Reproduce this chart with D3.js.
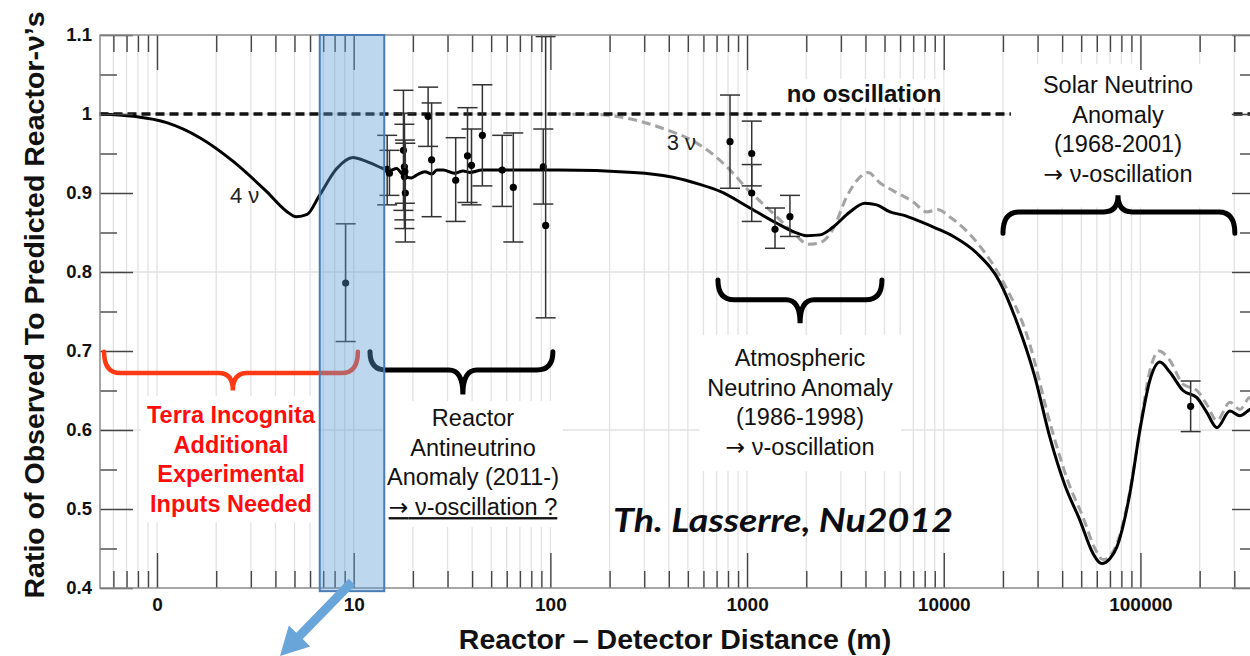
<!DOCTYPE html>
<html>
<head>
<meta charset="utf-8">
<script src="https://cdn.jsdelivr.net/npm/d3@7/dist/d3.min.js"></script>
<style>
  body { margin: 0; background: #fff; }
  text { font-family: "Liberation Sans", Arial, Helvetica, sans-serif; }
</style>
</head>
<body>
<script>
// ---- data ----
var yTickValues = [0.4, 0.5, 0.6, 0.7, 0.8, 0.9, 1.0, 1.1];
var yTickLabels = ["0.4", "0.5", "0.6", "0.7", "0.8", "0.9", "1", "1.1"];
var yMinorValues = [0.45, 0.55, 0.65, 0.75, 0.85, 0.95, 1.05];
var yGridValues = [0.6, 0.8, 1.0];
var xTickValues = [1, 10, 100, 1000, 10000, 100000];
var xTickLabels = ["0", "10", "100", "1000", "10000", "100000"];

// 4 neutrino curve (solid black)
var fourNuDist = [0.51, 0.76, 1.12, 1.65, 2.44, 3.6, 4.55, 5.1, 5.8, 6.7,
  8.2, 9.9, 11.6, 14.1, 15.2, 16.5, 18.1, 19.6, 21.3, 23,
  25, 26.5, 28.5, 32.5, 36, 39, 45, 51, 110, 265,
  420, 575, 730, 1035, 1410, 1720, 2010, 2350, 2740, 3330,
  3970, 4560, 5330, 6220, 7570, 9030, 11200, 14700, 19300, 23000,
  29000, 34700, 41300, 49200, 57300, 63600, 69900, 75900, 88400, 99400,
  111700, 125600, 141300, 164500, 193700, 217800, 244800, 285200, 320600, 360500,
  415000];
var fourNuRatio = [1.0, 0.997, 0.989, 0.970, 0.940, 0.902, 0.877, 0.870, 0.873, 0.897,
  0.931, 0.945, 0.940, 0.931, 0.928, 0.931, 0.921, 0.919, 0.924, 0.927,
  0.924, 0.929, 0.929, 0.925, 0.928, 0.926, 0.929, 0.929, 0.929, 0.926,
  0.920, 0.911, 0.902, 0.881, 0.862, 0.851, 0.846, 0.847, 0.857, 0.876,
  0.887, 0.885, 0.876, 0.872, 0.864, 0.856, 0.845, 0.824, 0.787, 0.743,
  0.668, 0.590, 0.530, 0.486, 0.444, 0.431, 0.437, 0.452, 0.520, 0.600,
  0.663, 0.686, 0.673, 0.650, 0.641, 0.622, 0.603, 0.624, 0.618, 0.626,
  0.630];

// 3 neutrino curve (grey dashed)
var threeNuDist = [110, 180, 263, 390, 530, 670, 850, 1000, 1160, 1470,
  1790, 2040, 2350, 2730, 3220, 3750, 4120, 4730, 5520, 6970,
  8220, 9240, 11100, 14800, 20200, 26500, 35500, 42800, 51000, 58700,
  64500, 70800, 76900, 89500, 100600, 111700, 124100, 141300, 164500, 193700,
  217800, 244800, 285200, 320600, 360500, 415000];
var threeNuRatio = [1.0, 0.999, 0.993, 0.980, 0.966, 0.949, 0.925, 0.905, 0.890, 0.866,
  0.845, 0.835, 0.837, 0.854, 0.896, 0.920, 0.926, 0.913, 0.903, 0.889,
  0.876, 0.879, 0.867, 0.837, 0.786, 0.720, 0.600, 0.535, 0.490, 0.450,
  0.436, 0.442, 0.460, 0.530, 0.610, 0.675, 0.700, 0.688, 0.658, 0.650,
  0.632, 0.612, 0.635, 0.626, 0.641, 0.640];

// no oscillation
var noOscDist = [0.51, 415000];
var noOscRatio = [1.0, 1.0];

// measurements with error bars
var pointDist = [9.1, 14.8, 15.2, 17.9, 18.1, 18.1, 18.3, 18.2, 23.9, 24.9,
  33, 37.9, 39.7, 45.1, 56.9, 64.8, 92, 94.6, 819, 1056,
  1056, 1387, 1652, 180000];
var pointRatio = [0.786, 0.930, 0.925, 0.954, 0.933, 0.921, 0.900, 0.927, 0.997, 0.942,
  0.916, 0.947, 0.935, 0.973, 0.929, 0.907, 0.933, 0.859, 0.965, 0.950,
  0.900, 0.854, 0.870, 0.630];
var pointLow = [0.712, 0.885, 0.897, 0.878, 0.866, 0.855, 0.838, 0.887, 0.959, 0.870,
  0.864, 0.888, 0.885, 0.909, 0.883, 0.838, 0.886, 0.742, 0.906, 0.909,
  0.864, 0.830, 0.845, 0.598];
var pointHigh = [0.861, 0.973, 0.954, 1.030, 1.001, 0.987, 0.963, 0.967, 1.034, 1.014,
  0.970, 1.008, 0.981, 1.037, 0.973, 0.976, 0.981, 1.098, 1.024, 0.991,
  0.936, 0.881, 0.897, 0.662];

// ---- chart ----
var W = 1250, H = 656;
var plotL = 100, plotR = 1262, plotT = 35, plotB = 588;

var svg = d3.select("body").append("svg")
  .attr("width", W).attr("height", H);

var x = d3.scaleLog().domain([0.513, 415000]).range([plotL, plotR]);
var y = d3.scaleLinear().domain([0.4, 1.1]).range([plotB, plotT]);

var allX = x.ticks();   // 1..9 x 10^k over the domain
var minorX = allX.filter(function (d) { return xTickValues.indexOf(d) < 0; });

// grid
var grid = svg.append("g");
grid.selectAll("line.v").data(allX).enter().append("line")
  .attr("x1", function (d) { return x(d); }).attr("x2", function (d) { return x(d); })
  .attr("y1", plotT).attr("y2", plotB)
  .attr("stroke", "#e2e2e2").attr("stroke-width", 1.3);
grid.selectAll("line.h").data(yGridValues).enter().append("line")
  .attr("x1", plotL).attr("x2", plotR)
  .attr("y1", function (d) { return y(d); }).attr("y2", function (d) { return y(d); })
  .attr("stroke", "#e2e2e2").attr("stroke-width", 1.3);

// curves
function lineFor(xs, ys) {
  return d3.line()
    .x(function (d) { return x(d); })
    .y(function (d, i) { return y(ys[i]); })
    .curve(d3.curveMonotoneX)(xs);
}

svg.append("path").attr("d", lineFor(threeNuDist, threeNuRatio))
  .attr("fill", "none").attr("stroke", "#a3a3a3")
  .attr("stroke-width", 3).attr("stroke-dasharray", "9,5");

svg.append("path").attr("d", lineFor(noOscDist, noOscRatio))
  .attr("fill", "none").attr("stroke", "#111")
  .attr("stroke-width", 3.5).attr("stroke-dasharray", "9,5");

svg.append("path").attr("d", lineFor(fourNuDist, fourNuRatio))
  .attr("fill", "none").attr("stroke", "#000")
  .attr("stroke-width", 3);

// error bars + points
var pts = svg.append("g");
pointDist.forEach(function (d, i) {
  var px = x(d);
  pts.append("line").attr("x1", px).attr("x2", px)
    .attr("y1", y(pointLow[i])).attr("y2", y(pointHigh[i]))
    .attr("stroke", "#333").attr("stroke-width", 1.5);
  [pointLow[i], pointHigh[i]].forEach(function (v) {
    pts.append("line").attr("x1", px - 10).attr("x2", px + 10)
      .attr("y1", y(v)).attr("y2", y(v))
      .attr("stroke", "#333").attr("stroke-width", 1.5);
  });
  pts.append("circle").attr("cx", px).attr("cy", y(pointRatio[i]))
    .attr("r", 3.6).attr("fill", "#000");
});

// text blocks with white boxes behind
var annot = svg.append("g");
function textBlock(lines, cx, base, lh, size, weight, color, pad, underlineLast) {
  var g = annot.append("g");
  var rect = g.append("rect").attr("fill", "#fff");
  var texts = g.selectAll("text").data(lines).enter().append("text")
    .attr("x", cx).attr("y", function (d, i) { return base + i * lh; })
    .attr("text-anchor", "middle")
    .attr("font-size", size).attr("font-weight", weight)
    .attr("fill", color)
    .style("text-decoration", function (d, i) {
      return (underlineLast && i === lines.length - 1) ? "underline" : "none";
    })
    .each(function (d) {
      // arrow glyph drawn from DejaVu so it is as wide as in the slide
      var t = d3.select(this);
      if (d.charAt(0) === "\u2192") {
        t.append("tspan").style("font-family", "'DejaVu Sans', sans-serif").text("\u2192");
        t.append("tspan").text(d.slice(1));
      } else {
        t.text(d);
      }
    });
  var x0 = 1e9, y0 = 1e9, x1 = -1e9, y1 = -1e9;
  texts.each(function () {
    var b = this.getBBox();
    x0 = Math.min(x0, b.x); y0 = Math.min(y0, b.y);
    x1 = Math.max(x1, b.x + b.width); y1 = Math.max(y1, b.y + b.height);
  });
  rect.attr("x", x0 - pad[3]).attr("y", y0 - pad[0])
    .attr("width", x1 - x0 + pad[1] + pad[3])
    .attr("height", y1 - y0 + pad[0] + pad[2]);
}

textBlock(["Solar Neutrino", "Anomaly", "(1968-2001)", "\u2192 \u03bd-oscillation"],
  1118, 93, 29.5, 23.5, "normal", "#111", [8, 38, 20, 32]);
textBlock(["Atmospheric", "Neutrino Anomaly", "(1986-1998)", "\u2192 \u03bd-oscillation"],
  800, 366, 29.7, 23.5, "normal", "#111", [10, 8, 10, 8]);
textBlock(["Reactor", "Antineutrino", "Anomaly (2011-)", "\u2192 \u03bd-oscillation ?"],
  473, 426, 29.7, 23.5, "normal", "#111", [4, 4, 6, 4], true);
textBlock(["Terra Incognita", "Additional", "Experimental", "Inputs Needed"],
  231, 423, 29.5, 23.5, "bold", "#ff0d0d", [6, 2, 6, 6]);
textBlock(["no oscillation"], 864, 102, 20, 24, "bold", "#111", [1, 2, 1, 2]);

// curve labels
svg.append("text").attr("x", x(2.35)).attr("y", y(0.887))
  .attr("font-size", 22).attr("fill", "#222").text("4 \u03bd");
svg.append("text").attr("x", x(390)).attr("y", y(0.955))
  .attr("font-size", 22).attr("fill", "#222").text("3 \u03bd");

// axes: inward ticks on all four sides
function ticks(gen, vals, size, tx, ty) {
  svg.append("g").attr("transform", "translate(" + tx + "," + ty + ")")
    .call(gen.tickValues(vals).tickSize(size).tickFormat(""))
    .call(function (g) {
      g.select(".domain").remove();
      g.selectAll("line").attr("stroke", "#444").attr("stroke-width", 1.4);
    });
}
ticks(d3.axisTop(x), xTickValues, 35, 0, plotB);
ticks(d3.axisTop(x), minorX, 17, 0, plotB);
ticks(d3.axisBottom(x), xTickValues, 35, 0, plotT);
ticks(d3.axisBottom(x), minorX, 17, 0, plotT);
ticks(d3.axisRight(y), yTickValues, 33, plotL, 0);
ticks(d3.axisRight(y), yMinorValues, 17, plotL, 0);
ticks(d3.axisLeft(y), yTickValues, 30, plotR, 0);
ticks(d3.axisLeft(y), yMinorValues, 22, plotR, 0);

svg.append("rect").attr("x", plotL).attr("y", plotT)
  .attr("width", plotR - plotL).attr("height", plotB - plotT)
  .attr("fill", "none").attr("stroke", "#8a8a8a").attr("stroke-width", 1.5);

// tick labels
svg.append("g").attr("transform", "translate(0," + plotB + ")")
  .call(d3.axisBottom(x).tickValues(xTickValues).tickSize(0).tickPadding(10)
    .tickFormat(function (d, i) { return xTickLabels[i]; }))
  .call(function (g) {
    g.select(".domain").remove();
    g.selectAll("text").attr("font-size", 19).attr("font-weight", "bold")
      .attr("fill", "#111").style("font-family", "'Liberation Sans', Arial, sans-serif");
  });
svg.append("g").attr("transform", "translate(" + (plotL - 8) + ",0)")
  .call(d3.axisLeft(y).tickValues(yTickValues).tickSize(0).tickPadding(0)
    .tickFormat(function (d, i) { return yTickLabels[i]; }))
  .call(function (g) {
    g.select(".domain").remove();
    g.selectAll("text").attr("font-size", 18.5).attr("font-weight", "bold")
      .attr("fill", "#111").style("font-family", "'Liberation Sans', Arial, sans-serif");
  });

// braces
function brace(d1, d2, dm, vEnd, vFlat, vTip) {
  var x1 = x(d1), x2 = x(d2), xm = x(dm);
  var ye = y(vEnd), yf = y(vFlat), yt = y(vTip);
  var r = 16, k = 14;
  return "M" + x1 + "," + ye +
    " Q" + x1 + "," + yf + " " + (x1 + r) + "," + yf +
    " L" + (xm - k) + "," + yf +
    " Q" + xm + "," + yf + " " + xm + "," + yt +
    " Q" + xm + "," + yf + " " + (xm + k) + "," + yf +
    " L" + (x2 - r) + "," + yf +
    " Q" + x2 + "," + yf + " " + x2 + "," + ye;
}
var braceG = svg.append("g").attr("fill", "none").attr("stroke-linecap", "round");
braceG.append("path").attr("d", brace(0.538, 10.5, 2.43, 0.699, 0.672, 0.650))
  .attr("stroke", "#ff3a14").attr("stroke-width", 4.5);
braceG.append("path").attr("d", brace(12.1, 103, 35.9, 0.699, 0.676, 0.645))
  .attr("stroke", "#000").attr("stroke-width", 5);
braceG.append("path").attr("d", brace(711, 4850, 1860, 0.79, 0.765, 0.735))
  .attr("stroke", "#000").attr("stroke-width", 5);
braceG.append("path").attr("d", brace(20000, 302000, 76900, 0.849, 0.876, 0.897))
  .attr("stroke", "#000").attr("stroke-width", 5);

// highlighted band
svg.append("rect")
  .attr("x", x(6.72)).attr("y", y(1.1))
  .attr("width", x(14.3) - x(6.72)).attr("height", y(0.396) - y(1.1))
  .attr("fill", "#5b9bd5").attr("fill-opacity", 0.4)
  .attr("stroke", "#4a7db5").attr("stroke-width", 2);

// arrow out of the band
(function () {
  var sx = 352, sy = 582, tx = 280, ty = 656;
  var dx = tx - sx, dy = ty - sy, len = Math.sqrt(dx * dx + dy * dy);
  var ux = dx / len, uy = dy / len, nx = -uy, ny = ux;
  var headL = 28, headW = 15, shaftW = 4.5;
  var bx = tx - ux * headL, by = ty - uy * headL;
  var p = [
    [sx + nx * shaftW, sy + ny * shaftW],
    [bx + nx * shaftW, by + ny * shaftW],
    [bx + nx * headW, by + ny * headW],
    [tx, ty],
    [bx - nx * headW, by - ny * headW],
    [bx - nx * shaftW, by - ny * shaftW],
    [sx - nx * shaftW, sy - ny * shaftW]
  ];
  svg.append("path").attr("d", "M" + p.join("L") + "Z").attr("fill", "#6aa5da");
})();

// signature
svg.append("text").attr("x", 613).attr("y", 532)
  .attr("font-size", 32).attr("font-weight", "bold").attr("font-style", "italic")
  .attr("textLength", 340).attr("lengthAdjust", "spacingAndGlyphs")
  .style("font-family", "Lato, 'Open Sans', sans-serif")
  .attr("fill", "#0d0d14").text("Th. Lasserre, Nu2012");

// axis titles
svg.append("text").attr("x", 675).attr("y", 649).attr("text-anchor", "middle")
  .attr("font-size", 28.5).attr("font-weight", "bold").attr("fill", "#111")
  .text("Reactor \u2013 Detector Distance (m)");
svg.append("text").attr("transform", "translate(44,305) rotate(-90)")
  .attr("text-anchor", "middle")
  .attr("font-size", 28.5).attr("font-weight", "bold").attr("fill", "#111")
  .text("Ratio of Observed To Predicted Reactor-\u03bd\u2019s");
</script>
</body>
</html>
